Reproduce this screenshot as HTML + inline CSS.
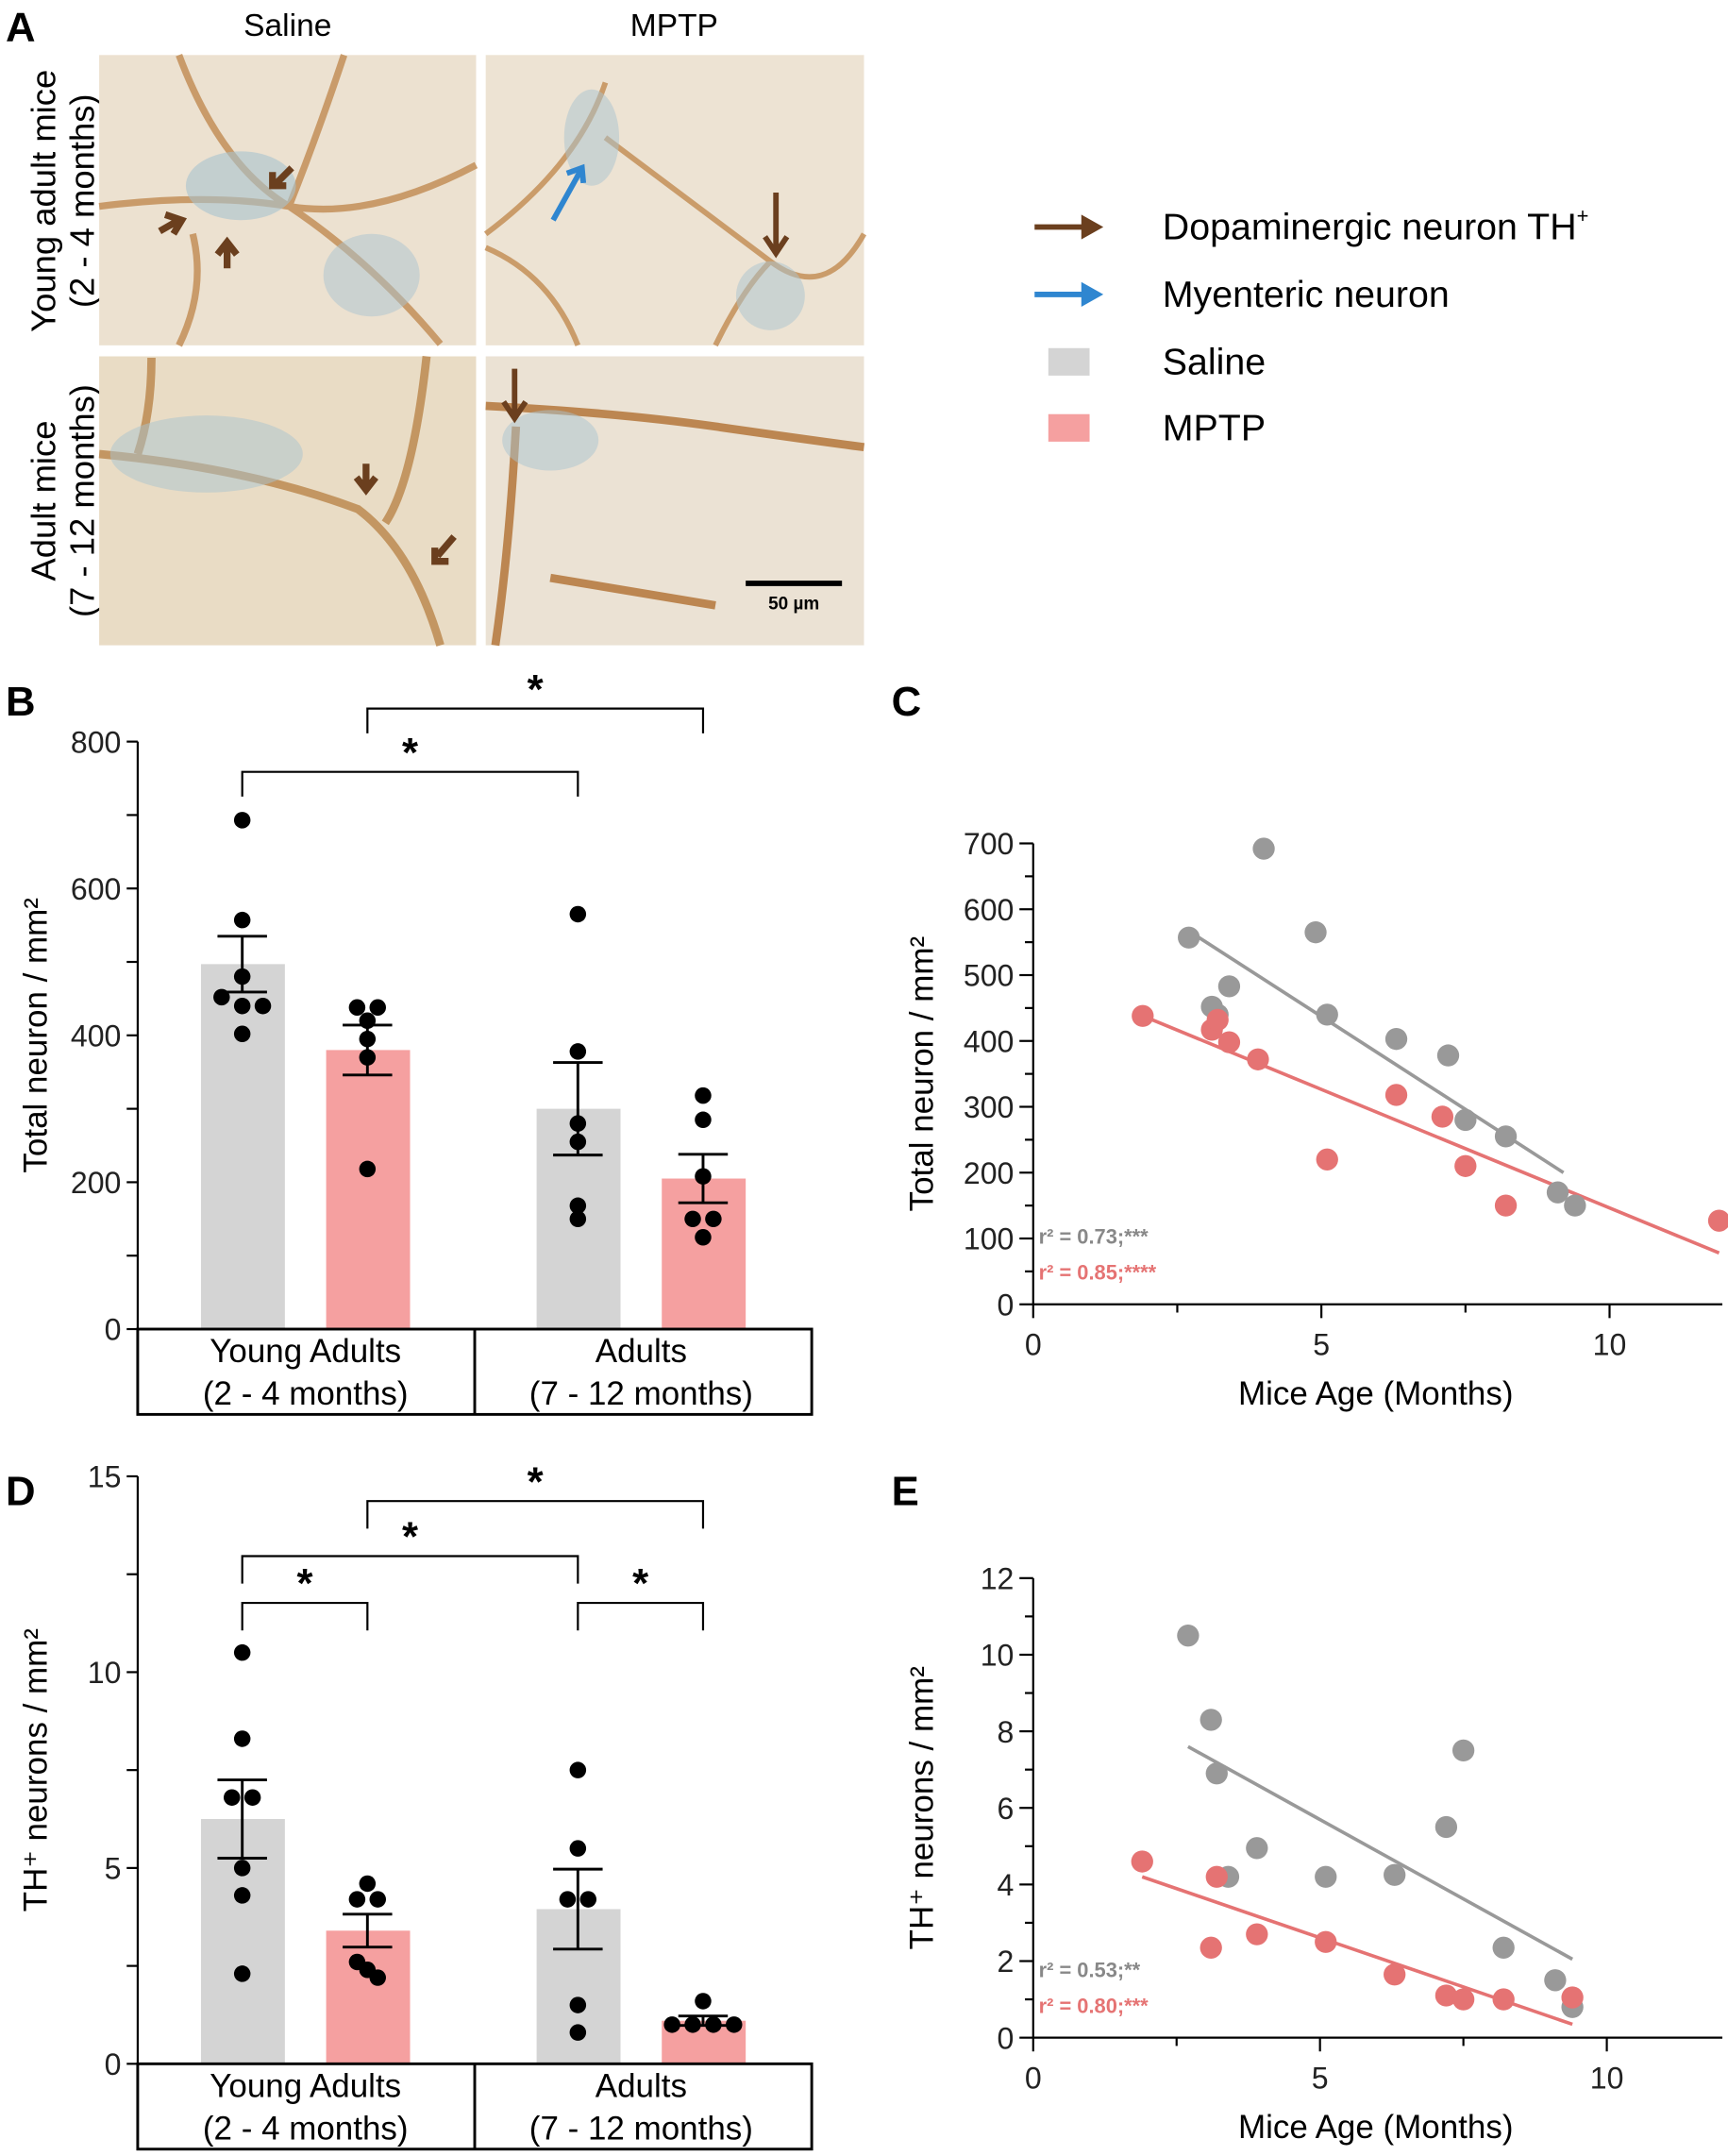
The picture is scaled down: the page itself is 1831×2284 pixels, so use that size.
<!DOCTYPE html>
<html><head><meta charset="utf-8"><style>
html,body{margin:0;padding:0;background:#fff;}
svg{display:block;font-family:"Liberation Sans",Arial,sans-serif;}
</style></head><body>
<svg id="fig" width="1831" height="2284" viewBox="0 0 1256 1567" xmlns="http://www.w3.org/2000/svg">
<g>
<text x="4" y="30" font-size="30" font-weight="bold">A</text>
<text x="209" y="26" font-size="23" text-anchor="middle">Saline</text>
<text x="490" y="26" font-size="23" text-anchor="middle">MPTP</text>
<text transform="translate(40,146) rotate(-90)" font-size="25" text-anchor="middle">Young adult mice</text>
<text transform="translate(68,146) rotate(-90)" font-size="25" text-anchor="middle">(2 - 4 months)</text>
<text transform="translate(40,364) rotate(-90)" font-size="25" text-anchor="middle">Adult mice</text>
<text transform="translate(68,364) rotate(-90)" font-size="25" text-anchor="middle">(7 - 12 months)</text>
<g>
<rect x="72" y="40" width="274" height="211" fill="#ece1d0"/>
<path d="M72 150 Q150 140 210 150 T346 120 M130 40 Q160 120 210 150 Q270 190 320 250 M250 40 Q230 100 210 150 M140 170 Q150 210 130 251" stroke="#c08a50" stroke-width="5" fill="none" opacity="0.8"/>
<ellipse cx="175" cy="135" rx="40" ry="25" fill="#a9c3cf" opacity="0.6"/>
<ellipse cx="270" cy="200" rx="35" ry="30" fill="#a9c3cf" opacity="0.5"/>
</g>
<g>
<rect x="353" y="40" width="275" height="211" fill="#ede3d3"/>
<path d="M353 170 Q420 120 440 60 M440 100 Q520 160 560 190 T628 170 M520 251 Q540 210 560 190 M420 251 Q400 200 353 180" stroke="#c08a50" stroke-width="4" fill="none" opacity="0.8"/>
<ellipse cx="430" cy="100" rx="20" ry="35" fill="#a9c3cf" opacity="0.5"/>
<ellipse cx="560" cy="215" rx="25" ry="25" fill="#a9c3cf" opacity="0.5"/>
</g>
<g>
<rect x="72" y="259" width="274" height="210" fill="#e9dcc5"/>
<path d="M72 330 Q180 340 260 370 Q300 400 320 469 M310 259 Q300 350 280 380 M110 260 Q110 300 100 330" stroke="#b98548" stroke-width="6" fill="none" opacity="0.8"/>
<ellipse cx="150" cy="330" rx="70" ry="28" fill="#a9c3cf" opacity="0.5"/>
</g>
<g>
<rect x="353" y="259" width="275" height="210" fill="#ebe2d4"/>
<path d="M353 295 Q450 300 520 310 T628 325 M375 310 Q370 400 360 469 M400 420 Q460 430 520 440" stroke="#b06f30" stroke-width="6" fill="none" opacity="0.8"/>
<ellipse cx="400" cy="320" rx="35" ry="22" fill="#a9c3cf" opacity="0.5"/>
<line x1="542" y1="424" x2="612" y2="424" stroke="#000" stroke-width="4"/>
<text x="577" y="443" font-size="13" font-weight="bold" text-anchor="middle">50 µm</text>
</g>
<g fill="#6b3f1e">
<path d="M212 122 l-12 12 M198 125 l0 10 l10 0" stroke="#6b3f1e" stroke-width="5" fill="none"/>
<path d="M116 168 l14 -8 M120 156 l12 4 l-6 10" stroke="#6b3f1e" stroke-width="5" fill="none"/>
<path d="M165 195 l0 -16 M158 185 l7 -9 l7 9" stroke="#6b3f1e" stroke-width="5" fill="none"/>
<path d="M564 140 l0 42 M556 172 l8 12 l8 -12" stroke="#6b3f1e" stroke-width="4" fill="none"/>
<path d="M374 268 l0 34 M366 292 l8 12 l8 -12" stroke="#6b3f1e" stroke-width="4" fill="none"/>
<path d="M266 337 l0 18 M259 347 l7 9 l7 -9" stroke="#6b3f1e" stroke-width="5" fill="none"/>
<path d="M330 390 l-12 14 M316 398 l0 10 l10 0" stroke="#6b3f1e" stroke-width="5" fill="none"/>
<path d="M402 160 l20 -36 M412 126 l11 -4 l1 11" stroke="#2f86d0" stroke-width="4" fill="none"/>
</g>
</g>
<g>
<g><line x1="752" y1="165" x2="790" y2="165" stroke="#6b3f1e" stroke-width="4"/><path d="M786 156 L802 165 L786 174Z" fill="#6b3f1e"/><text x="845" y="174" font-size="27">Dopaminergic neuron TH<tspan font-size="15" dy="-12">+</tspan></text></g>
<g><line x1="752" y1="214" x2="790" y2="214" stroke="#2f86d0" stroke-width="4"/><path d="M786 205 L802 214 L786 223Z" fill="#2f86d0"/><text x="845" y="223" font-size="27">Myenteric neuron</text></g>
<g><rect x="762" y="253" width="30" height="20" fill="#d4d4d4"/><text x="845" y="272" font-size="27">Saline</text></g>
<g><rect x="762" y="301" width="30" height="20" fill="#f5a0a0"/><text x="845" y="320" font-size="27">MPTP</text></g>
</g>
<g id="pB"></g>
<g id="pC"></g>
<g id="pD"></g>
<g id="pE"></g>
</svg>
<script>
const NS="http://www.w3.org/2000/svg";
// Panel B data
const bGroups=["Saline Young","MPTP Young","Saline Adult","MPTP Adult"];
const bMeans=[497,380,300,205];
const bSems=[38,34,63,33];
const bPoints=[[693,557,480,452,440,440,402],[438,438,420,395,370,218],[565,378,280,255,168,150],[318,285,208,150,150,125]];
const bTicks=[0,200,400,600,800];
// Panel D data
const dMeans=[6.25,3.4,3.95,1.1];
const dSems=[1.0,0.42,1.02,0.12];
const dPoints=[[10.5,8.3,6.8,6.8,5.0,4.3,2.3],[4.6,4.2,4.2,2.6,2.4,2.2],[7.5,5.5,4.2,4.2,1.5,0.8],[1.6,1.0,1.0,1.0,1.0]];
const dTicks=[0,5,10,15];
// Panel C data
const cSalAge=[2.7,3.1,3.2,3.4,4.0,4.9,5.1,6.3,7.2,7.5,8.2,9.1,9.4];
const cSalVal=[557,452,440,483,692,565,440,403,378,280,255,170,150];
const cMptpAge=[1.9,3.1,3.2,3.4,3.9,5.1,6.3,7.1,7.5,8.2,11.9];
const cMptpVal=[438,417,432,398,372,220,318,285,210,150,127];
const cSalFit=[[2.7,567],[9.2,200]];
const cMptpFit=[[1.9,438],[11.9,78]];
const cYTicks=[0,100,200,300,400,500,600,700];
const cXTicks=[0,5,10];
// Panel E data
const eSalAge=[2.7,3.1,3.2,3.4,3.9,5.1,6.3,7.2,7.5,8.2,9.1,9.4];
const eSalVal=[10.5,8.3,6.9,4.2,4.95,4.2,4.25,5.5,7.5,2.35,1.5,0.8];
const eMptpAge=[1.9,3.1,3.2,3.9,5.1,6.3,7.2,7.5,8.2,9.4];
const eMptpVal=[4.6,2.35,4.2,2.7,2.5,1.65,1.1,1.0,1.0,1.05];
const eSalFit=[[2.7,7.6],[9.4,2.05]];
const eMptpFit=[[1.9,4.2],[9.4,0.35]];
const eYTicks=[0,2,4,6,8,10,12];
const eXTicks=[0,5,10];

function mk(p,tag,a){const e=document.createElementNS(NS,tag);for(const k in a)e.setAttribute(k,a[k]);p.appendChild(e);return e;}
function txt(p,x,y,s,size,anchor,extra){const t=mk(p,"text",Object.assign({x:x,y:y,"font-size":size,"text-anchor":anchor||"start"},extra||{}));t.textContent=s;return t;}

const barX=[176,267,420,511];
const barColors=["#d4d4d4","#f5a0a0","#d4d4d4","#f5a0a0"];
function barPanel(g,y0,yTop,maxV,ticks,means,sems,pts,letter,letterY,ylabel,brackets){
  const yS=v=>y0-(v/maxV)*(y0-yTop);
  const L=txt(g,4,letterY,letter,30,"start",{"font-weight":"bold"});
  
  
  for(let i=0;i<4;i++){
    const r=mk(g,"rect",{x:barX[i]-30,y:yS(means[i]),width:61,height:y0-yS(means[i]),fill:barColors[i]});
    
    
  }
  for(let i=0;i<4;i++){
    const eb=mk(g,"g",{stroke:"#000","stroke-width":2});
    
    
    const a=yS(means[i]+sems[i]),b=yS(means[i]-sems[i]);
    mk(eb,"line",{x1:barX[i],x2:barX[i],y1:a,y2:b});
    mk(eb,"line",{x1:barX[i]-18,x2:barX[i]+18,y1:a,y2:a});
    mk(eb,"line",{x1:barX[i]-18,x2:barX[i]+18,y1:b,y2:b});
    pts[i].forEach((v,j)=>{
      let dx=0;
      const same=pts[i].filter(w=>Math.abs(w-v)<(maxV/60)).length;
      if(same>1){const idx=pts[i].slice(0,j).filter(w=>Math.abs(w-v)<(maxV/60)).length;dx=(idx-(same-1)/2)*15;}
      const c=mk(g,"circle",{cx:barX[i]+dx,cy:yS(v),r:6,fill:"#000"});
      
      
    });
  }
  const ax=mk(g,"g",{stroke:"#000","stroke-width":1.5});
  
  
  mk(ax,"line",{x1:100,x2:100,y1:yTop,y2:y0});
  const step=(ticks[1]-ticks[0])/2;
  for(let v=0;v<=maxV+1e-9;v+=step){mk(ax,"line",{x1:92,x2:100,y1:yS(v),y2:yS(v)});}
  ticks.forEach(v=>{const t=txt(g,88,yS(v)+8,String(v),22,"end",{fill:"#222"});
    
    });
  const yl=txt(g,0,0,ylabel,24,"middle",{transform:"translate(34,"+((y0+yTop)/2)+") rotate(-90)"});
  
  
  const box=mk(g,"g",{fill:"none",stroke:"#000","stroke-width":2});
  
  
  mk(box,"rect",{x:100,y:y0,width:490,height:62});
  mk(box,"line",{x1:345,x2:345,y1:y0,y2:y0+62});
  [["Young Adults",222],["Adults",466]].forEach(([s,x])=>{const t=txt(g,x,y0+24,s,24,"middle");
    
    });
  [["(2 - 4 months)",222],["(7 - 12 months)",466]].forEach(([s,x])=>{const t=txt(g,x,y0+55,s,24,"middle");
    
    });
  brackets.forEach(([a,b,y,d])=>{
    const br=mk(g,"path",{d:"M"+barX[a]+" "+(y+d)+" V"+y+" H"+barX[b]+" V"+(y+d),fill:"none",stroke:"#000","stroke-width":1.5});
    
    
    const s=txt(g,(barX[a]+barX[b])/2,y-4,"*",30,"middle",{"font-weight":"bold"});
    
    
  });
}
barPanel(document.getElementById("pB"),966,539,800,bTicks,bMeans,bSems,bPoints,"B",520,"Total neuron / mm²",[[1,3,515,18],[0,2,561,18]]);
barPanel(document.getElementById("pD"),1500,1073,15,dTicks,dMeans,dSems,dPoints,"D",1094,"TH⁺ neurons / mm²",[[1,3,1091,20],[0,2,1131,20],[0,1,1165,20],[2,3,1165,20]]);

function scatterPanel(g,x0,x10,y0,yTop,yMax,xMaxPx,yTicks,xTicks,yMinorStep,sa,sv,ma,mv,sf,mf,letter,letterY,ylabel,r2a,r2b){
  const xS=v=>x0+v*(x10-x0)/10, yS=v=>y0-v/yMax*(y0-yTop);
  const L=txt(g,648,letterY,letter,30,"start",{"font-weight":"bold"});
  
  
  const ax=mk(g,"g",{stroke:"#000","stroke-width":1.5});
  
  
  mk(ax,"line",{x1:x0,x2:x0,y1:yTop,y2:y0});
  mk(ax,"line",{x1:x0,x2:xMaxPx,y1:y0,y2:y0});
  for(let v=0;v<=yMax+1e-9;v+=yMinorStep){const big=yTicks.some(t=>Math.abs(t-v)<1e-9);mk(ax,"line",{x1:x0-(big?10:6),x2:x0,y1:yS(v),y2:yS(v)});}
  for(let v=0;xS(v)<=xMaxPx;v+=2.5){mk(ax,"line",{x1:xS(v),x2:xS(v),y1:y0,y2:y0+(v%5===0?10:6)});}
  yTicks.forEach(v=>{const t=txt(g,x0-14,yS(v)+8,String(v),22,"end",{fill:"#222"});
    
    });
  xTicks.forEach(v=>{const t=txt(g,xS(v),y0+37,String(v),22,"middle",{fill:"#222"});
    
    });
  const xl=txt(g,1000,y0+73,"Mice Age (Months)",24,"middle");
  
  
  const yl=txt(g,0,0,ylabel,24,"middle",{transform:"translate(678,"+((y0+yTop)/2)+") rotate(-90)"});
  
  
  [[sf,"#999"],[mf,"#e57373"]].forEach(([f,c])=>{const l=mk(g,"line",{x1:xS(f[0][0]),y1:yS(f[0][1]),x2:xS(f[1][0]),y2:yS(f[1][1]),stroke:c,"stroke-width":2.5});
    
    });
  sa.forEach((a,i)=>{const c=mk(g,"circle",{cx:xS(a),cy:yS(sv[i]),r:8,fill:"#999"});
    
    });
  ma.forEach((a,i)=>{const c=mk(g,"circle",{cx:xS(a),cy:yS(mv[i]),r:8,fill:"#e57373"});
    
    });
  const t1=txt(g,755,y0-44,r2a,15,"start",{fill:"#888","font-weight":"bold"});
  
  
  const t2=txt(g,755,y0-18,r2b,15,"start",{fill:"#e57373","font-weight":"bold"});
  
  
}
scatterPanel(document.getElementById("pC"),751,1170,948,613,700,1252,cYTicks,cXTicks,50,cSalAge,cSalVal,cMptpAge,cMptpVal,cSalFit,cMptpFit,"C",520,"Total neuron / mm²","r² = 0.73;***","r² = 0.85;****");
scatterPanel(document.getElementById("pE"),751,1168,1481,1147,12,1252,eYTicks,eXTicks,1,eSalAge,eSalVal,eMptpAge,eMptpVal,eSalFit,eMptpFit,"E",1094,"TH⁺ neurons / mm²","r² = 0.53;**","r² = 0.80;***");
</script>
</body></html>
